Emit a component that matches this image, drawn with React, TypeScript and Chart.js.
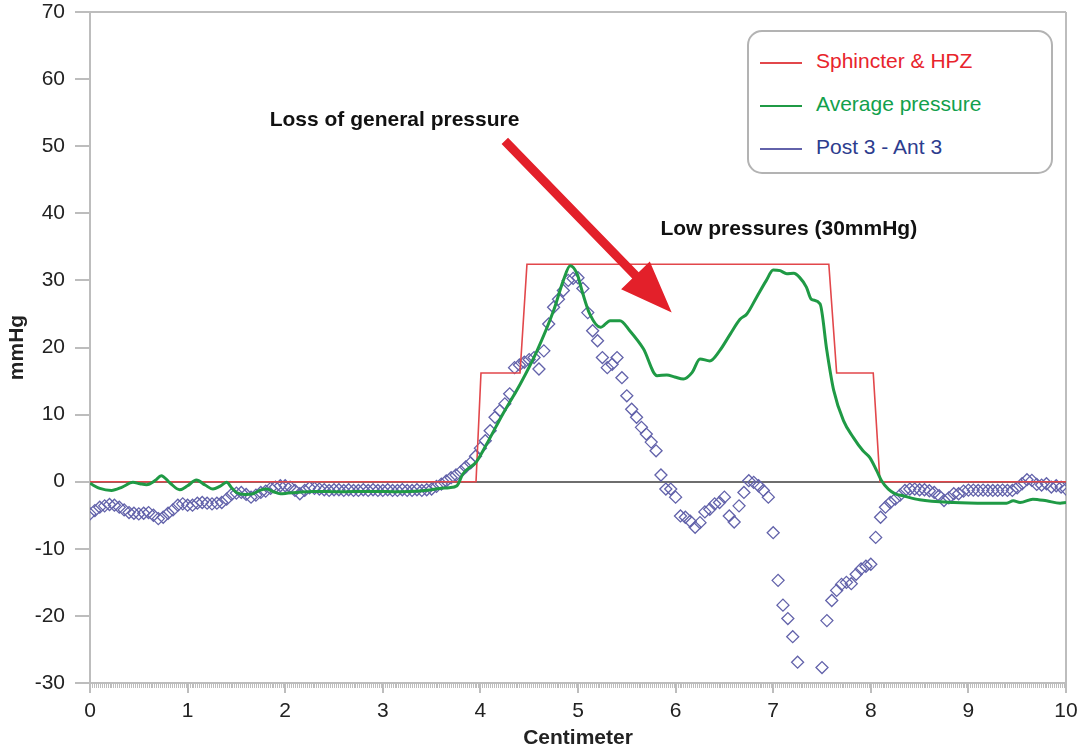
import React, { useEffect, useRef } from "react";
import { Chart, registerables } from "chart.js";

Chart.register(...registerables);

const FONT = '"Liberation Sans", Arial, Helvetica, sans-serif';

// Sphincter & HPZ step profile
const sphincterCm = [0, 3.955, 4.006, 4.406, 4.477, 7.57, 7.65, 8.025, 8.094, 10];
const sphincterMmHg = [0, 0, 16.2, 16.2, 32.4, 32.4, 16.2, 16.2, 0, 0];

// Average pressure
const avgCm = [
  0.0, 0.1, 0.22, 0.33, 0.44, 0.51, 0.58, 0.67, 0.73, 0.82, 0.92, 1.0, 1.09, 1.18, 1.26, 1.33, 1.4,
  1.45, 1.5, 1.59, 1.67, 1.74, 1.81, 1.88, 1.95, 2.03, 2.12, 2.28, 2.56, 2.87, 3.18, 3.38, 3.48,
  3.58, 3.68, 3.76, 3.82, 3.96, 4.06, 4.23, 4.41, 4.58, 4.75, 4.85, 4.92, 4.99, 5.05, 5.12, 5.23,
  5.33, 5.43, 5.53, 5.67, 5.81, 5.91, 5.99, 6.08, 6.17, 6.25, 6.35, 6.45, 6.56, 6.66, 6.73, 6.83,
  6.93, 7.0, 7.07, 7.14, 7.21, 7.27, 7.34, 7.39, 7.48, 7.55, 7.62, 7.72, 7.82, 7.92, 7.99, 8.06,
  8.11, 8.18, 8.25, 8.33, 8.5, 8.85, 9.19, 9.39, 9.46, 9.53, 9.66, 9.8, 9.94, 10.0,
];
const avgMmHg = [
  -0.25, -1.0, -1.3, -0.8, -0.1, -0.3, -0.45, 0.2, 0.9, -0.2, -1.2, -0.6, 0.25, -0.5, -1.1, -0.7, -0.1,
  -0.9, -1.6, -1.9, -1.8, -1.3, -1.1, -1.5, -1.8, -1.7, -1.6, -1.45, -1.5, -1.45, -1.5, -1.4, -1.25,
  -1.0, -0.9, -0.6, 1.15, 3.0, 5.5, 10.1, 14.6, 19.5, 25.5, 30.0, 32.2, 31.0, 28.0, 25.0, 23.0,
  24.0, 24.0, 22.5, 19.8, 15.8, 15.9, 15.6, 15.3, 16.3, 18.3, 18.0, 19.5, 22.0, 24.2, 25.0, 27.5,
  30.0, 31.55, 31.45, 31.0, 31.05, 30.45, 29.0, 27.2, 26.5, 19.5, 13.6, 9.1, 6.6, 4.6, 3.6, 1.65,
  0.15, -1.1, -1.8, -2.1, -2.7, -3.1, -3.2, -3.2, -2.85, -3.1, -2.6, -2.85, -3.2, -3.1,
];

// Post 3 - Ant 3 (sampled every 0.05 cm from 0 cm)
const postStartCm = 0;
const postStepCm = 0.05;
const postMmHg: (number | null)[] = [
  -4.8, -4.3, -3.8, -3.6, -3.4, -3.5, -3.8, -4.2, -4.6, -4.7,
  -4.8, -4.7, -4.6, -5.0, -5.5, -5.3, -4.7, -4.2, -3.5, -3.3,
  -3.5, -3.5, -3.2, -3.1, -3.2, -3.3, -3.2, -3.1, -2.6, -1.9,
  -1.7, -1.6, -1.9, -2.3, -2.0, -1.6, -1.4, -1.0, -0.8, -0.6,
  -0.6, -0.8, -1.3, -1.8, -1.3, -0.9, -1.0, -1.1, -1.2, -1.3,
  -1.2, -1.2, -1.3, -1.2, -1.3, -1.3, -1.2, -1.3, -1.2, -1.3,
  -1.3, -1.2, -1.3, -1.3, -1.2, -1.3, -1.3, -1.2, -1.3, -1.2,
  -1.1, -0.7, -0.35, 0.1, 0.6, 1.0, 1.5, 2.2, 2.8, 3.8,
  5.0, 6.1, 7.6, 9.6, 10.6, 11.6, 13.1, 17.0, 17.4, 17.8,
  18.2, 18.5, 16.8, 19.5, 23.5, 26.0, 27.2, 28.5, 30.0, 30.3,
  30.4, 28.8, 25.2, 22.5, 21.0, 18.5, 17.0, 17.5, 18.5, 15.5,
  12.8, 10.8, 9.6, 8.1, 7.1, 5.9, 4.6, 1.0, -1.1, -1.1,
  -2.3, -5.1, -5.3, -5.9, -6.8, -6.1, -4.5, -4.1, -3.3, -3.1,
  -2.3, -5.1, -6.0, -3.6, -1.6, 0.15, -0.1, -0.6, -1.3, -2.3,
  -7.6, -14.7, -18.4, -20.4, -23.1, -26.9, null, null, null, null,
  -27.7, -20.7, -17.7, -16.2, -15.3, -15.0, -15.2, -13.8, -13.0, -12.6,
  -12.3, -8.3, -5.3, -3.8, -3.1, -2.6, -2.0, -1.3, -1.1, -1.1,
  -1.2, -1.2, -1.35, -1.6, -2.1, -2.8, -2.4, -1.8, -1.8, -1.4,
  -1.25, -1.25, -1.3, -1.25, -1.3, -1.3, -1.3, -1.25, -1.3, -1.3,
  -0.9, -0.3, 0.3, 0.2, -0.4, -0.5, -0.3, -0.8, -0.6, -0.8, -1.1,
];

const seriesNames = ["Sphincter & HPZ", "Average pressure", "Post 3 - Ant 3"];
const lineColors = ["#e2474b", "#1f9a45", "#6262aa"];
const textColors = ["#e8242c", "#12a04c", "#2d3c8e"];

const annotations = [
  { text: "Loss of general pressure", cm: 3.12, mmHg: 53.8 },
  { text: "Low pressures (30mmHg)", cm: 7.16, mmHg: 37.7 },
];
const arrowFrom = { cm: 4.25, mmHg: 50.8 };
const arrowTo = { cm: 5.96, mmHg: 25.2 };

const decorPlugin = {
  id: "decor",
  afterDatasetsDraw(chart: any) {
    const { ctx, scales } = chart;
    const xs = scales.x;
    const ys = scales.y;
    ctx.save();
    const sx = xs.getPixelForValue(arrowFrom.cm);
    const sy = ys.getPixelForValue(arrowFrom.mmHg);
    const tx = xs.getPixelForValue(arrowTo.cm);
    const ty = ys.getPixelForValue(arrowTo.mmHg);
    const dx = tx - sx;
    const dy = ty - sy;
    const len = Math.hypot(dx, dy);
    const ux = dx / len;
    const uy = dy / len;
    const nx = -uy;
    const ny = ux;
    const headLen = 52;
    const headHalf = 20;
    const shaftHalf = 4.5;
    const bx = tx - ux * headLen;
    const by = ty - uy * headLen;
    ctx.beginPath();
    ctx.moveTo(sx + nx * shaftHalf, sy + ny * shaftHalf);
    ctx.lineTo(bx + nx * shaftHalf, by + ny * shaftHalf);
    ctx.lineTo(bx + nx * headHalf, by + ny * headHalf);
    ctx.lineTo(tx, ty);
    ctx.lineTo(bx - nx * headHalf, by - ny * headHalf);
    ctx.lineTo(bx - nx * shaftHalf, by - ny * shaftHalf);
    ctx.lineTo(sx - nx * shaftHalf, sy - ny * shaftHalf);
    ctx.closePath();
    ctx.fillStyle = "#e3202a";
    ctx.fill();
    ctx.fillStyle = "#111";
    ctx.font = `bold 21px ${FONT}`;
    ctx.textAlign = "center";
    ctx.textBaseline = "middle";
    for (const a of annotations) {
      ctx.fillText(a.text, xs.getPixelForValue(a.cm), ys.getPixelForValue(a.mmHg));
    }
    ctx.restore();
  },
  afterDraw(chart: any) {
    const { ctx, scales } = chart;
    const xs = scales.x;
    const bottom = chart.chartArea.bottom;
    ctx.save();
    ctx.strokeStyle = "#bdbdbd";
    ctx.lineWidth = 1;
    ctx.beginPath();
    for (let k = 0; k <= 500; k++) {
      const v = k * 0.02;
      const px = Math.round(xs.getPixelForValue(v)) + 0.5;
      ctx.moveTo(px, bottom);
      ctx.lineTo(px, bottom + 5);
    }
    ctx.stroke();
    ctx.restore();
  },
};

export default function App() {
  const ref = useRef<HTMLCanvasElement>(null);

  useEffect(() => {
    const canvas = ref.current!;
    const sphData = sphincterCm.map((x, i) => ({ x, y: sphincterMmHg[i] }));
    const avgData = avgCm.map((x, i) => ({ x, y: avgMmHg[i] }));
    const postData = postMmHg.map((y, i) => ({ x: postStartCm + i * postStepCm, y }));

    const chart = new Chart(canvas, {
      type: "scatter",
      data: {
        datasets: [
          {
            label: seriesNames[1],
            data: avgData,
            showLine: true,
            borderColor: lineColors[1],
            borderWidth: 3,
            pointRadius: 0,
            cubicInterpolationMode: "monotone",
            order: 0,
          } as any,
          {
            label: seriesNames[0],
            data: sphData,
            showLine: true,
            borderColor: lineColors[0],
            borderWidth: 1.6,
            pointRadius: 0,
            tension: 0,
            order: 1,
          },
          {
            label: seriesNames[2],
            data: postData,
            showLine: false,
            pointStyle: "rectRot",
            pointRadius: 6,
            borderWidth: 1.3,
            borderColor: lineColors[2],
            backgroundColor: "rgba(0,0,0,0)",
            order: 2,
          },
        ],
      },
      options: {
        animation: false,
        responsive: false,
        maintainAspectRatio: false,
        layout: { padding: { left: 0, right: 18, top: 12, bottom: 0 } },
        plugins: {
          legend: { display: false },
          tooltip: { enabled: false },
        },
        scales: {
          x: {
            type: "linear",
            min: 0,
            max: 10,
            afterFit: (s: any) => {
              s.height = 69;
              s.paddingLeft = 0;
              s.paddingRight = 0;
            },
            ticks: {
              stepSize: 1,
              autoSkip: false,
              maxRotation: 0,
              padding: 6,
              color: "#222",
              font: { family: FONT, size: 21 },
            },
            grid: {
              drawOnChartArea: true,
              color: (c: any) => (c.tick && c.tick.value === 10 ? "#bdbdbd" : "rgba(0,0,0,0)"),
              lineWidth: 2,
              tickColor: "#bdbdbd",
              tickWidth: 2,
              tickLength: 10,
            },
            border: { display: true, color: "#bdbdbd", width: 2 },
            title: {
              display: true,
              text: "Centimeter",
              color: "#222",
              font: { family: FONT, size: 21, weight: "bold" },
              padding: { top: 0, bottom: 1 },
            },
          },
          y: {
            type: "linear",
            min: -30,
            max: 70,
            afterFit: (s: any) => {
              s.width = 90;
              s.paddingTop = 0;
              s.paddingBottom = 0;
            },
            ticks: {
              stepSize: 10,
              autoSkip: false,
              padding: 10,
              color: "#222",
              font: { family: FONT, size: 21 },
            },
            grid: {
              drawOnChartArea: true,
              color: (c: any) =>
                c.tick && c.tick.value === 0
                  ? "#6e6e6e"
                  : c.tick && c.tick.value === 70
                  ? "#bdbdbd"
                  : "rgba(0,0,0,0)",
              lineWidth: 2,
              tickColor: "#bdbdbd",
              tickWidth: 2,
              tickLength: 15,
            },
            border: { display: true, color: "#bdbdbd", width: 2 },
            title: {
              display: true,
              text: "mmHg",
              color: "#222",
              font: { family: FONT, size: 21, weight: "bold" },
              padding: { top: 5, bottom: 0 },
            },
          },
        },
      },
      plugins: [decorPlugin],
    });
    return () => chart.destroy();
  }, []);

  const rowCenters = [61, 104, 147];

  return (
    <div
      style={{
        position: "absolute",
        left: 0,
        top: 0,
        width: 1084,
        height: 752,
        background: "#fff",
        fontFamily: FONT,
      }}
    >
      <canvas ref={ref} width={1084} height={752} style={{ display: "block" }} />
      <div
        style={{
          position: "absolute",
          left: 747,
          top: 30,
          width: 306,
          height: 144,
          boxSizing: "border-box",
          border: "2px solid #b3b3b3",
          borderRadius: 15,
          background: "#fff",
        }}
      />
      {seriesNames.map((name, i) => (
        <div
          key={name}
          style={{
            position: "absolute",
            left: 760,
            top: rowCenters[i] - 13,
            height: 26,
            display: "flex",
            alignItems: "center",
            whiteSpace: "nowrap",
          }}
        >
          <div
            style={{
              width: 42,
              height: 2,
              background: lineColors[i],
              marginTop: 4,
              marginRight: 14,
            }}
          />
          <span style={{ color: textColors[i], fontSize: 21, lineHeight: "26px" }}>{name}</span>
        </div>
      ))}
    </div>
  );
}
